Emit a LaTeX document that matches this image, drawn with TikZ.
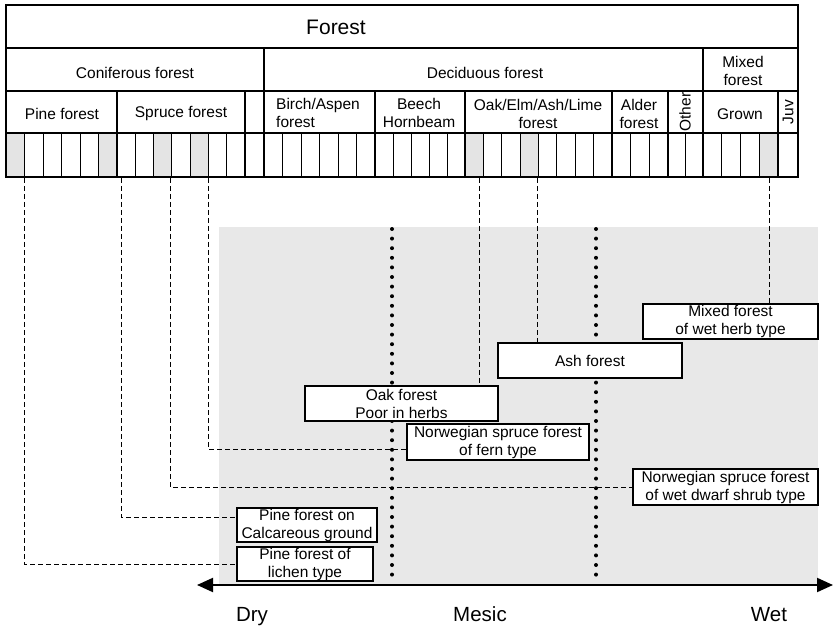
\documentclass[tikz,border=0pt]{standalone}
\usepackage{fontspec}
\setmainfont{Liberation Sans}
\usetikzlibrary{arrows.meta}
\definecolor{bggray}{HTML}{E8E8E8}
\definecolor{cellgray}{HTML}{E4E4E4}
\pgfdeclarelayer{bglayer}
\pgfdeclarelayer{midlayer}
\pgfsetlayers{bglayer,midlayer,main}
\begin{document}
\begin{tikzpicture}[x=1pt,y=-1pt,
  lbl/.style={font=\fontsize{15.5}{18}\selectfont, inner sep=0pt, align=center},
  biglbl/.style={font=\fontsize{21}{24}\selectfont, inner sep=0pt},
  axlbl/.style={font=\fontsize{20.5}{24}\selectfont, inner sep=0pt, anchor=base},
  vbox/.style={draw, fill=white, line width=1.2pt, font=\fontsize{15.5}{18}\selectfont, align=center, inner sep=0pt},
  conn/.style={dash pattern=on 5pt off 3pt, line width=0.9pt},
  dotline/.style={line width=4pt, line cap=round, dash pattern=on 0pt off 9.6pt},
  septhick/.style={line width=2.2pt},
  septhin/.style={line width=0.9pt},
]
\useasboundingbox (0,0) rectangle (833,628);

\begin{pgfonlayer}{bglayer}
% background zone
\fill[bggray] (219,227) rectangle (818,584);
% dotted boundaries
\coordinate (d1t) at (392,229); \coordinate (d1b) at (392,580);
\coordinate (d2t) at (596,229); \coordinate (d2b) at (596,580);
\draw[dotline] (d1t) -- (d1b);
\draw[dotline] (d2t) -- (d2b);
\end{pgfonlayer}

% ---------- table ----------
\foreach \a/\b in {6/24.5, 98.5/117, 153.6/171.9, 190.1/208.4, 465/483.4, 520.1/538.5, 759.25/778}
  \fill[cellgray] (\a,133) rectangle (\b,177);
\foreach \x in {24.5,43,61.5,80,98.5,
                135.3,153.6,171.9,190.1,208.4,226.7,
                282.5,301,319.5,338,356.5,
                393,411,429,447,
                483.4,501.75,520.1,538.5,556.9,575.25,593.6,
                630.7,649.3,
                685.5,
                721.75,740.5,759.25}
  \draw[septhin] (\x,133) -- (\x,177);
\foreach \y in {48,91,133}
  \draw[septhick] (6,\y) -- (798,\y);
\draw[septhick] (264,48) -- (264,91);
\draw[septhick] (703,48) -- (703,91);
\foreach \x in {117,245,264,375,465,612,668,703,778}
  \draw[septhick] (\x,91) -- (\x,177);
\draw[line width=2.6pt] (6,5) rectangle (798,177);

\node[biglbl] (forest) at (336,27) {Forest};
\node[lbl] (conif) at (135,73) {Coniferous forest};
\node[lbl] (decid) at (485,73) {Deciduous forest};
\node[lbl] (mixed) at (743,71) {Mixed\\forest};
\node[lbl] (pine) at (62,114) {Pine forest};
\node[lbl] (spruce) at (181,114) {Spruce forest};
\node[lbl, anchor=west, align=left] (birch) at (276,113) {Birch/Aspen\\forest};
\node[lbl] (beech) at (419,113) {Beech\\Hornbeam};
\node[lbl] (oakelm) at (538,114) {Oak/Elm/Ash/Lime\\forest};
\node[lbl] (alder) at (639,114) {Alder\\forest};
\node[lbl, rotate=90] (other) at (685,112) {Other};
\node[lbl] (grown) at (740,114) {Grown};
\node[lbl, rotate=90] (juv) at (788,112) {Juv};

% connector sources
\coordinate (s1) at (24,178);
\coordinate (s2) at (121,178);
\coordinate (s3) at (170,178);
\coordinate (s4) at (208,178);
\coordinate (s5) at (479,178);
\coordinate (s6) at (537,178);
\coordinate (s7) at (769,178);

% ---------- vegetation boxes ----------
\node[vbox, minimum width=175pt, minimum height=35pt] (wetherb) at (730.5,321.5) {Mixed forest\\of wet herb type};
\node[vbox, minimum width=184pt, minimum height=35pt] (ash) at (590,360.5) {Ash forest};
\node[vbox, minimum width=193pt, minimum height=35pt] (oak) at (401.5,403.5) {Oak forest\\Poor in herbs};
\node[vbox, minimum width=182pt, minimum height=36pt] (fern) at (498,442) {Norwegian spruce forest\\of fern type};
\node[vbox, minimum width=185pt, minimum height=36pt] (dwarf) at (725.5,487) {Norwegian spruce forest\\of wet dwarf shrub type};
\node[vbox, minimum width=140pt, minimum height=34pt] (calc) at (307,525) {Pine forest on\\Calcareous ground};
\node[vbox, minimum width=136pt, minimum height=34pt] (lichen) at (305,564) {Pine forest of\\lichen type};

% connectors (below the boxes)
\begin{pgfonlayer}{midlayer}
\draw[conn] (s1) |- (lichen.west);
\draw[conn] (s2) |- ([yshift=8pt]calc.west);
\draw[conn] (s3) |- (dwarf.west);
\draw[conn] (s4) |- ([yshift=-7pt]fern.west);
\draw[conn] (s5) -- (s5 |- oak.north);
\draw[conn] (s6) -- (s6 |- ash.north);
\draw[conn] (s7) -- (s7 |- wetherb.north);
\end{pgfonlayer}

% ---------- axis ----------
\coordinate (axL) at (197,585);
\coordinate (axR) at (833,585);
\draw[line width=2pt, {Triangle[length=16pt,width=14pt]}-{Triangle[length=16pt,width=14pt]}] (axL) -- (axR);
\node[axlbl] (dry) at (252,621) {Dry};
\node[axlbl] (mesic) at (480,621) {Mesic};
\node[axlbl] (wet) at (769,621) {Wet};
\end{tikzpicture}
\end{document}
